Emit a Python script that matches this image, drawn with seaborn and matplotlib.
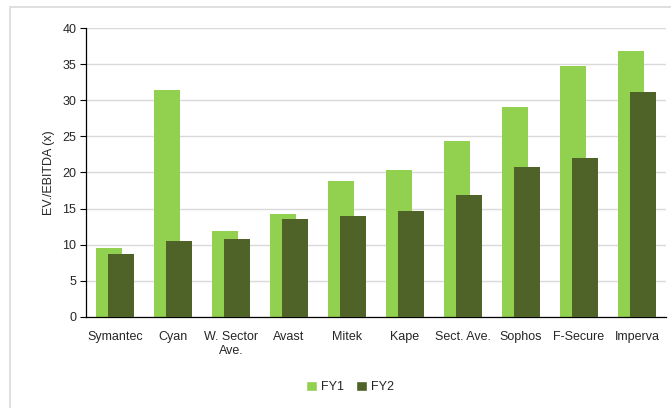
import numpy as np
import pandas as pd
import matplotlib
matplotlib.use("Agg")
import matplotlib.pyplot as plt
import seaborn as sns
from matplotlib.patches import Rectangle, Patch

# values
companies = ["Symantec", "Cyan", "W. Sector\nAve.", "Avast", "Mitek",
             "Kape", "Sect. Ave.", "Sophos", "F-Secure", "Imperva"]
fy1 = [9.5, 31.5, 11.9, 14.3, 18.8, 20.4, 24.4, 29.1, 34.7, 36.9]
fy2 = [8.7, 10.5, 10.8, 13.6, 13.9, 14.7, 16.9, 20.8, 22.0, 31.2]

light_green = "#92D050"
dark_green = "#4F6228"

sns.set_style("white")
plt.rcParams["font.family"] = ["Liberation Sans", "DejaVu Sans"]
fs = 9

df = pd.DataFrame({"company": companies, "FY1": fy1, "FY2": fy2})
df["pos"] = np.arange(len(df))

fig = plt.figure(figsize=(6.71, 4.08), dpi=100)
ax = fig.add_axes([86 / 671, 1 - 316.7 / 408, 580 / 671, 288.5 / 408])

# overlapping bars: FY1 shifted left, FY2 shifted right
shift = 0.103
sns.barplot(x=df["pos"] - shift, y=df["FY1"], native_scale=True, width=0.448,
            color=light_green, saturation=1, linewidth=0, ax=ax, zorder=2)
sns.barplot(x=df["pos"] + shift, y=df["FY2"], native_scale=True, width=0.448,
            color=dark_green, saturation=1, linewidth=0, ax=ax, zorder=3)
for p in ax.patches:
    p.set_edgecolor("none")

ax.set_xlim(-0.5, len(df) - 0.5)
ax.set_ylim(0, 40)
ax.set_yticks(range(0, 41, 5))
ax.set_xticks(df["pos"])
ax.set_xticklabels(companies, fontsize=fs, linespacing=1.25)
ax.tick_params(axis="y", labelsize=fs, length=4, width=0.8, color="black",
               direction="out", left=True, pad=3)
ax.tick_params(axis="x", length=0, pad=10)
ax.set_xlabel("")
ax.set_ylabel("EV./EBITDA (x)", fontsize=fs, labelpad=5)

ax.yaxis.grid(True, color="#D9D9D9", linewidth=1.0, zorder=0)
ax.set_axisbelow(True)
for side in ["top", "right"]:
    ax.spines[side].set_visible(False)
ax.spines["left"].set_color("black")
ax.spines["bottom"].set_color("black")
ax.spines["left"].set_linewidth(0.9)
ax.spines["bottom"].set_linewidth(0.9)

handles = [Patch(facecolor=light_green, label="FY1"),
           Patch(facecolor=dark_green, label="FY2")]
fig.legend(handles=handles, loc="center", bbox_to_anchor=(350 / 671, 1 - 387 / 408),
           ncol=2, frameon=False, fontsize=fs, handlelength=0.85, handleheight=0.85,
           handletextpad=0.3, columnspacing=1.0)

# light frame around the chart area
fig.patches.append(Rectangle((10 / 671, -0.1), 1.1, 1.1 - 7 / 408,
                             transform=fig.transFigure, fill=False,
                             edgecolor="#D9D9D9", linewidth=1.2))

fig.savefig("out.png", dpi=100)
